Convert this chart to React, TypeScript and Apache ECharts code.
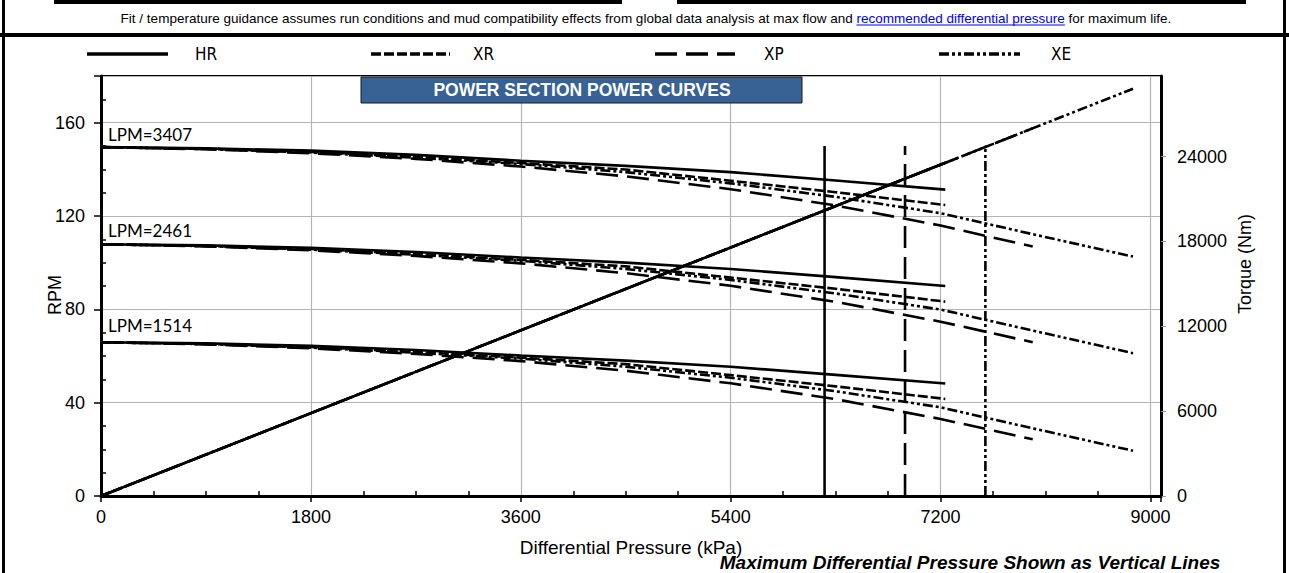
import React, { useEffect, useRef } from "react";
import * as echarts from "echarts";

// ---------- data ----------
const pressureHR = [0, 900, 1800, 2700, 3600, 4500, 5400, 6300, 7240];
const pressureXR = [0, 900, 1800, 2700, 3600, 4500, 5400, 6300, 7240];
const pressureXP = [0, 900, 1800, 2700, 3600, 4500, 5400, 6300, 7200, 7990];
const pressureXE = [0, 900, 1800, 2700, 3600, 4500, 5400, 6300, 7200, 7990, 8850];

const rpmHR3407 = [149.5, 149.0, 148.0, 146.2, 143.7, 141.5, 138.8, 135.2, 131.3];
const rpmHR2461 = [107.9, 107.4, 106.4, 104.6, 102.2, 100.0, 97.3, 93.8, 90.0];
const rpmHR1514 = [65.9, 65.4, 64.4, 62.6, 60.2, 58.0, 55.4, 51.9, 48.2];

const rpmXR3407 = [149.5, 148.8, 147.5, 145.3, 142.7, 139.9, 135.1, 130.2, 124.7];
const rpmXR2461 = [107.9, 107.2, 105.9, 103.7, 101.2, 98.4, 93.6, 88.8, 83.3];
const rpmXR1514 = [65.9, 65.2, 63.9, 61.7, 59.3, 56.5, 51.8, 47.0, 41.6];

const rpmXP3407 = [149.5, 148.6, 146.9, 144.5, 141.2, 137.0, 131.5, 124.5, 115.9, 106.9];
const rpmXP2461 = [107.9, 107.0, 105.3, 102.9, 99.7, 95.5, 90.1, 83.2, 74.7, 65.9];
const rpmXP1514 = [65.9, 65.0, 63.3, 60.9, 57.8, 53.7, 48.3, 41.5, 33.0, 24.3];

const rpmXE3407 = [149.5, 148.7, 147.2, 145.0, 142.3, 138.8, 134.0, 128.2, 121.2, 112.2, 102.6];
const rpmXE2461 = [107.9, 107.1, 105.6, 103.4, 100.8, 97.3, 92.6, 86.8, 79.9, 70.9, 61.2];
const rpmXE1514 = [65.9, 65.1, 63.6, 61.4, 58.9, 55.4, 50.7, 44.9, 38.0, 29.0, 19.4];

// torque (Nm) vs pressure, linear
const torquePressHR = [0, 7240];
const torqueHR = [0, 23560];
const torquePressXR = [0, 7240];
const torqueXR = [0, 23560];
const torquePressXP = [0, 7990];
const torqueXP = [0, 26000];
const torquePressXE = [0, 8850];
const torqueXE = [0, 28800];

// maximum differential pressure (vertical lines)
const maxPressHR = 6205;
const maxPressXP = 6895;
const maxPressXE = 7584;
const maxLineRpm = [0, 150];

const flowLabels = ["LPM=3407", "LPM=2461", "LPM=1514"];
const legendNames = ["HR", "XR", "XP", "XE"];

const xTicks = { min: 0, max: 9090, interval: 1800 };
const rpmTicks = { min: 0, max: 180, interval: 40 };
const torqueTicks = { min: 0, max: 29700, interval: 6000 };

// ---------- styles ----------
const ARIAL = "'Liberation Sans', Arial, sans-serif";
const NARROW = "'Liberation Sans Narrow', 'DejaVu Sans Condensed', sans-serif";
const CAL = "Lato, 'Liberation Sans', sans-serif";
const DASH: Record<string, any> = {
  HR: "solid",
  XR: [10, 3],
  XP: [22, 9],
  XE: [10, 3, 3, 3, 3, 3],
};
const LW = 2.6;
const TICK_FONT = 18;

const zip = (xs: number[], ys: number[]) => xs.map((x, i) => [x, ys[i]]);

function lineSeries(name: string, xs: number[], ys: number[], type: string, yAxisIndex = 0) {
  return {
    type: "line",
    name,
    yAxisIndex,
    data: zip(xs, ys),
    symbol: "none",
    silent: true,
    smooth: false,
    lineStyle: { color: "#000", width: LW, type: DASH[type] },
  };
}

function measure(text: string, font: string) {
  const c = document.createElement("canvas").getContext("2d")!;
  c.font = font;
  return c.measureText(text).width;
}

const plain = (v: number) => String(v);

export default function App() {
  const ref = useRef<HTMLDivElement>(null);

  useEffect(() => {
    const chart = echarts.init(ref.current!, null, { renderer: "svg" });

    const noteA = "Fit / temperature guidance assumes run conditions and mud compatibility effects from global data analysis at max flow and ";
    const noteB = "recommended differential pressure";
    const noteC = " for maximum life.";
    const noteSize = 13.5;
    const noteFont = noteSize + "px " + ARIAL;
    const wA = measure(noteA, noteFont);
    const wB = measure(noteB, noteFont);
    const wC = measure(noteC, noteFont);
    const noteCx = 646;
    const noteLeft = noteCx - (wA + wB + wC) / 2;

    const series: any[] = [
      lineSeries("XE 3407", pressureXE, rpmXE3407, "XE"),
      lineSeries("XE 2461", pressureXE, rpmXE2461, "XE"),
      lineSeries("XE 1514", pressureXE, rpmXE1514, "XE"),
      lineSeries("XP 3407", pressureXP, rpmXP3407, "XP"),
      lineSeries("XP 2461", pressureXP, rpmXP2461, "XP"),
      lineSeries("XP 1514", pressureXP, rpmXP1514, "XP"),
      lineSeries("XR 3407", pressureXR, rpmXR3407, "XR"),
      lineSeries("XR 2461", pressureXR, rpmXR2461, "XR"),
      lineSeries("XR 1514", pressureXR, rpmXR1514, "XR"),
      lineSeries("HR 3407", pressureHR, rpmHR3407, "HR"),
      lineSeries("HR 2461", pressureHR, rpmHR2461, "HR"),
      lineSeries("HR 1514", pressureHR, rpmHR1514, "HR"),
      lineSeries("XE torque", torquePressXE, torqueXE, "XE", 1),
      lineSeries("XP torque", torquePressXP, torqueXP, "XP", 1),
      lineSeries("XR torque", torquePressXR, torqueXR, "XR", 1),
      lineSeries("HR torque", torquePressHR, torqueHR, "HR", 1),
      lineSeries("HR max", [maxPressHR, maxPressHR], maxLineRpm, "HR"),
      lineSeries("XP max", [maxPressXP, maxPressXP], maxLineRpm, "XP"),
      lineSeries("XE max", [maxPressXE, maxPressXE], maxLineRpm, "XE"),
    ];

    const legendLayout = [
      { x1: 87, x2: 168, tx: 195 },
      { x1: 371, x2: 450, tx: 473 },
      { x1: 655, x2: 735, tx: 764 },
      { x1: 939, x2: 1020, tx: 1051 },
    ];
    const legendY = 54;

    const graphic: any[] = [
      // frame
      { type: "rect", shape: { x: 2, y: 0, width: 3, height: 573 }, style: { fill: "#000" } },
      { type: "rect", shape: { x: 1283, y: 0, width: 3, height: 573 }, style: { fill: "#000" } },
      { type: "rect", shape: { x: 54, y: 0, width: 568, height: 4 }, style: { fill: "#000" } },
      { type: "rect", shape: { x: 677, y: 0, width: 569, height: 4 }, style: { fill: "#000" } },
      { type: "rect", shape: { x: 0, y: 33, width: 1289, height: 4 }, style: { fill: "#000" } },
      // note
      {
        type: "text",
        x: noteLeft,
        y: 18,
        style: {
          text: "{a|" + noteA + "}{b|" + noteB + "}{a|" + noteC + "}",
          font: noteFont,
          verticalAlign: "middle",
          align: "left",
          rich: {
            a: { fontSize: noteSize, fontFamily: ARIAL, fill: "#000" },
            b: { fontSize: noteSize, fontFamily: ARIAL, fill: "#0000ee" },
          },
        },
      },
      {
        type: "line",
        shape: { x1: noteLeft + wA, y1: 25, x2: noteLeft + wA + wB, y2: 25 },
        style: { stroke: "#0000ee", lineWidth: 1 },
      },
      // title box
      {
        type: "rect",
        shape: { x: 361, y: 77, width: 441, height: 26 },
        style: { fill: "#386194", stroke: "#1a1a1a", lineWidth: 1 },
        z: 10,
      },
      {
        type: "text",
        x: 582,
        y: 90,
        z: 11,
        style: {
          text: "POWER SECTION POWER CURVES",
          font: "bold 17.5px " + ARIAL,
          fill: "#fff",
          align: "center",
          verticalAlign: "middle",
        },
      },
      // flow labels
      ...flowLabels.map((t, i) => ({
        type: "text",
        x: 108,
        y: [134, 230, 325][i],
        z: 10,
        style: { text: t, font: "17px " + CAL, fill: "#000", verticalAlign: "middle", align: "left" },
      })),
      // axis names
      {
        type: "text",
        x: 55,
        y: 295,
        rotation: Math.PI / 2,
        style: { text: "RPM", font: "18px " + ARIAL, fill: "#000", align: "center", verticalAlign: "middle" },
      },
      {
        type: "text",
        x: 1245,
        y: 264,
        rotation: Math.PI / 2,
        style: { text: "Torque (Nm)", font: "18px " + ARIAL, fill: "#000", align: "center", verticalAlign: "middle" },
      },
      {
        type: "text",
        x: 631,
        y: 547,
        style: { text: "Differential Pressure (kPa)", font: "19px " + ARIAL, fill: "#000", align: "center", verticalAlign: "middle" },
      },
      {
        type: "text",
        x: 970,
        y: 562,
        style: {
          text: "Maximum Differential Pressure Shown as Vertical Lines",
          font: "italic bold 19px " + ARIAL,
          lineHeight: 19,
          fill: "#000",
          align: "center",
          verticalAlign: "middle",
        },
      },
      // legend
      ...legendNames.flatMap((n, i) => {
        const L = legendLayout[i];
        const d = DASH[n];
        return [
          {
            type: "line",
            shape: { x1: L.x1, y1: legendY, x2: L.x2, y2: legendY },
            style: { stroke: "#000", lineWidth: 3.5, lineDash: d === "solid" ? null : d },
          },
          {
            type: "text",
            x: L.tx,
            y: legendY,
            style: { text: n, font: "17px " + NARROW, fill: "#000", verticalAlign: "middle", align: "left" },
          },
        ];
      }),
    ];

    const option: any = {
      animation: false,
      backgroundColor: "#fff",
      grid: {
        left: 101,
        right: 128,
        top: 76,
        bottom: 77,
        show: true,
        borderColor: "#000",
        borderWidth: 2,
        containLabel: false,
      },
      xAxis: {
        type: "value",
        min: xTicks.min,
        max: xTicks.max,
        interval: xTicks.interval,
        axisLine: { show: true, lineStyle: { color: "#000", width: 3 } },
        axisTick: { show: true, length: 6, lineStyle: { color: "#000", width: 1.5 } },
        minorTick: { show: true, splitNumber: 4, length: -5, lineStyle: { color: "#000", width: 1.5 } },
        axisLabel: { showMaxLabel: false, fontSize: TICK_FONT, fontFamily: ARIAL, color: "#000", margin: 12, formatter: plain },
        splitLine: { show: true, lineStyle: { color: "#b4b4b4", width: 1.2 } },
      },
      yAxis: [
        {
          type: "value",
          position: "left",
          min: rpmTicks.min,
          max: rpmTicks.max,
          interval: rpmTicks.interval,
          axisLine: { show: true, lineStyle: { color: "#000", width: 3 } },
          axisTick: { show: true, length: 7, lineStyle: { color: "#000", width: 1.5 } },
          minorTick: { show: true, splitNumber: 4, length: -5, lineStyle: { color: "#000", width: 1.5 } },
          axisLabel: { showMaxLabel: false, fontSize: TICK_FONT, fontFamily: ARIAL, color: "#000", margin: 16, formatter: plain },
          splitLine: { show: true, lineStyle: { color: "#b4b4b4", width: 1.2 } },
        },
        {
          type: "value",
          position: "right",
          min: torqueTicks.min,
          max: torqueTicks.max,
          interval: torqueTicks.interval,
          axisLine: { show: true, lineStyle: { color: "#000", width: 3 } },
          axisTick: { show: true, length: 5, lineStyle: { color: "#999", width: 1 } },
          axisLabel: { showMaxLabel: false, fontSize: TICK_FONT, fontFamily: ARIAL, color: "#000", margin: 16, formatter: plain },
          splitLine: { show: false },
        },
      ],
      series,
      graphic,
    };

    chart.setOption(option);
    return () => chart.dispose();
  }, []);

  return (
    <div
      ref={ref}
      style={{ position: "absolute", left: 0, top: 0, width: 1289, height: 573, background: "#fff" }}
    />
  );
}
